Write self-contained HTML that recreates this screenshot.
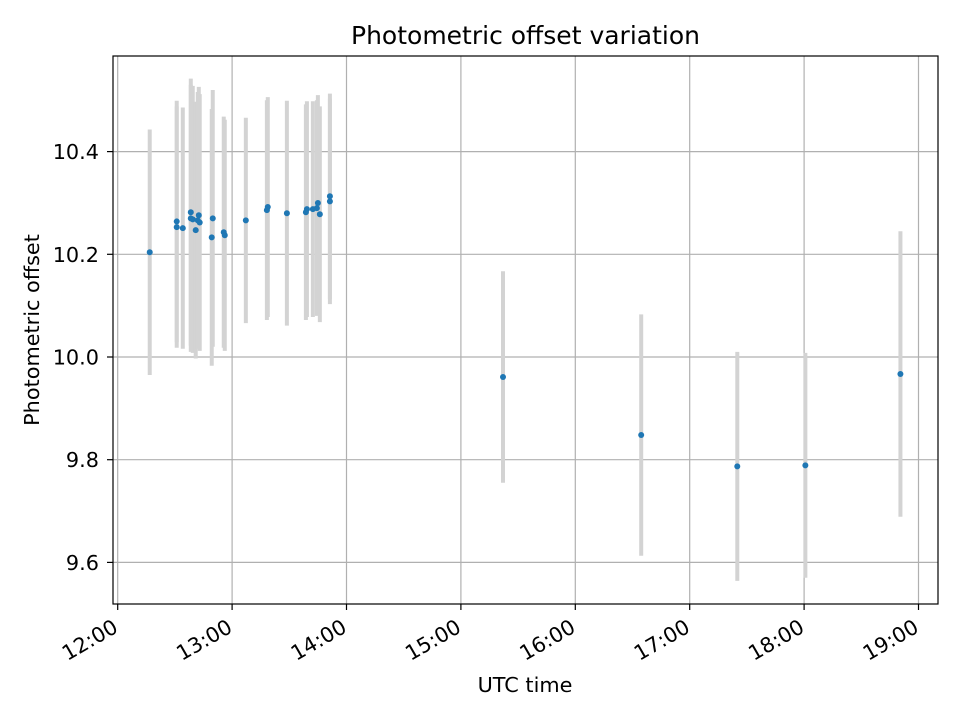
<!DOCTYPE html>
<html><head><meta charset="utf-8"><style>body{margin:0;background:#fff}svg{display:block;font-family:"DejaVu Sans","Liberation Sans",sans-serif}</style></head>
<body>
<svg id="c" width="960" height="720"></svg>
<script>
const times=[12.28,12.516,12.516,12.569,12.639,12.639,12.656,12.682,12.70,12.709,12.717,12.822,12.831,12.927,12.936,13.12,13.304,13.312,13.479,13.645,13.654,13.706,13.741,13.75,13.767,13.855,13.855,15.368,16.576,17.416,18.011,18.842];
const offsets=[10.204,10.264,10.253,10.251,10.282,10.270,10.268,10.247,10.266,10.276,10.262,10.233,10.270,10.243,10.237,10.266,10.286,10.292,10.280,10.282,10.288,10.288,10.29,10.300,10.278,10.313,10.303,9.961,9.848,9.787,9.789,9.967];
const errors=[0.239,0.235,0.235,0.235,0.26,0.26,0.26,0.25,0.25,0.25,0.25,0.25,0.25,0.225,0.225,0.2,0.214,0.214,0.219,0.21,0.21,0.21,0.21,0.21,0.21,0.2,0.2,0.206,0.235,0.223,0.219,0.278];
const xTicks=[12,13,14,15,16,17,18,19];
const xTickLabels=["12:00","13:00","14:00","15:00","16:00","17:00","18:00","19:00"];
const yTicks=[9.6,9.8,10.0,10.2,10.4];
const yTickLabels=["9.6","9.8","10.0","10.2","10.4"];
const L=113,R=938,T=56,B=604;
const X=h=>117.7+(h-12)*114.4;
const Y=v=>357-(v-10)*513.5;
const svg=document.getElementById('c');const NS='http://www.w3.org/2000/svg';
function mk(t,a,p){const e=document.createElementNS(NS,t);for(const k in a)e.setAttribute(k,a[k]);(p||svg).appendChild(e);return e;}
xTicks.forEach((t,i)=>{const x=X(t);
const g=mk('line',{x1:x,x2:x,y1:T,y2:B,stroke:'#b0b0b0','stroke-width':1.2});


const tk=mk('line',{x1:x,x2:x,y1:B,y2:B+6,stroke:'#000','stroke-width':1.2});


const px=x-6,py=618;
const tx=mk('text',{x:px,y:py,'font-size':20.8,'text-anchor':'end',transform:`rotate(-30 ${px} ${py})`,'dominant-baseline':'hanging'});
tx.textContent=xTickLabels[i];


});
yTicks.forEach((t,i)=>{const y=Y(t);
const g=mk('line',{x1:L,x2:R,y1:y,y2:y,stroke:'#b0b0b0','stroke-width':1.2});


const tk=mk('line',{x1:L-6,x2:L,y1:y,y2:y,stroke:'#000','stroke-width':1.2});


const tx=mk('text',{x:L-14,y:y+7.5,'font-size':20.8,'text-anchor':'end'});
tx.textContent=yTickLabels[i];


});
times.forEach((t,i)=>{const x=X(t);
const e=mk('line',{x1:x,x2:x,y1:Y(offsets[i]+errors[i]),y2:Y(offsets[i]-errors[i]),stroke:'#d3d3d3','stroke-width':4});


});
times.forEach((t,i)=>{
const p=mk('circle',{cx:X(t),cy:Y(offsets[i]),r:3,fill:'#1f77b4'});


});
const fr=mk('rect',{x:L,y:T,width:R-L,height:B-T,fill:'none',stroke:'#000','stroke-width':1.2});


const ti=mk('text',{x:(L+R)/2,y:44,'font-size':25,'text-anchor':'middle'});ti.textContent='Photometric offset variation';


const xl=mk('text',{x:525,y:692,'font-size':20.8,'text-anchor':'middle'});xl.textContent='UTC time';


const yl=mk('text',{x:39,y:330,'font-size':20.8,'text-anchor':'middle',transform:'rotate(-90 39 330)'});yl.textContent='Photometric offset';


</script>
</body></html>
